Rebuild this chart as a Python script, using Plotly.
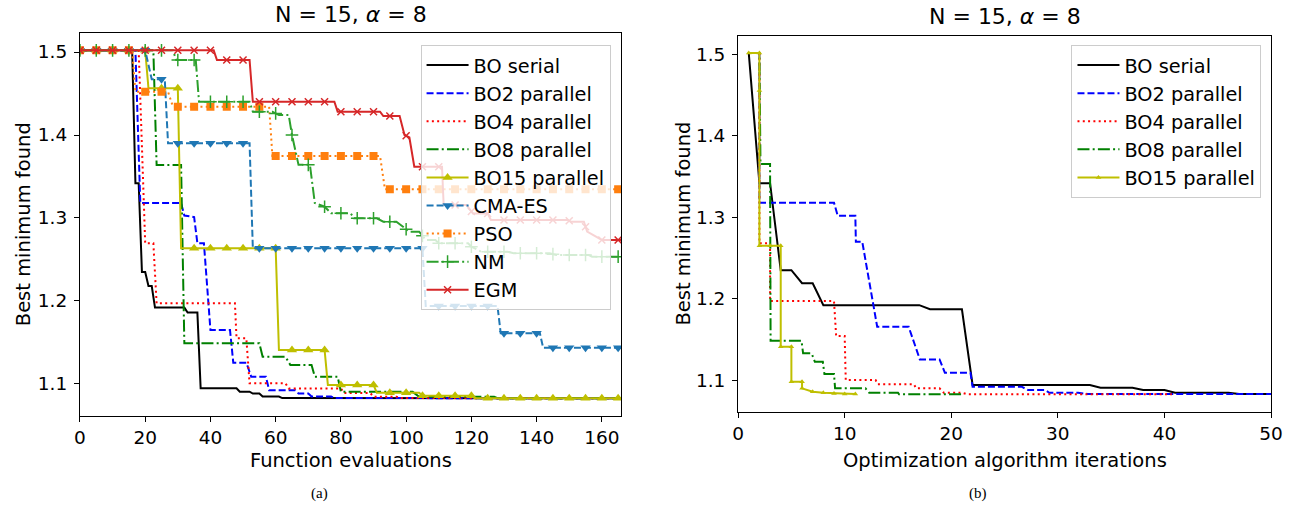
import numpy as np
import plotly.graph_objects as go

# ---------------- data: left panel (function evaluations) ----------------
bo_serial_x = [0, 16, 17, 18, 19, 20, 21, 22, 23, 32, 33, 36, 37, 48, 49, 52, 53, 55, 56, 61, 62, 166]
bo_serial_y = [1.502, 1.502, 1.342, 1.342, 1.235, 1.235, 1.218, 1.218, 1.192, 1.192, 1.186, 1.186,
               1.0948, 1.0948, 1.0907, 1.0907, 1.0885, 1.0885, 1.0848, 1.0848, 1.083, 1.0828]

bo2_x = [0, 17, 18.5, 31, 32, 35, 36, 38, 40, 46, 47, 51, 52.5, 57, 58, 66, 67, 70, 71, 77, 78, 166]
bo2_y = [1.502, 1.502, 1.318, 1.318, 1.303, 1.301, 1.2695, 1.2695, 1.165, 1.165, 1.1257, 1.1257,
         1.1088, 1.1088, 1.0925, 1.0925, 1.0885, 1.0885, 1.0848, 1.0848, 1.083, 1.0828]

bo4_x = [0, 18, 20, 22.5, 23.5, 47.5, 48, 51, 52, 63, 64, 80, 81, 89, 90, 97, 98, 166]
bo4_y = [1.502, 1.502, 1.2695, 1.2695, 1.1972, 1.1972, 1.1551, 1.1551, 1.1008, 1.1008, 1.0945, 1.0945,
         1.089, 1.089, 1.0847, 1.0847, 1.083, 1.0828]

bo8_x = [0, 22.5, 23.5, 31, 32, 55, 56, 63, 64.5, 71, 72, 79, 80, 102, 104, 127, 128, 166]
bo8_y = [1.502, 1.502, 1.3639, 1.3639, 1.149, 1.149, 1.1329, 1.1329, 1.1229, 1.1229, 1.1088, 1.1088,
         1.0905, 1.0905, 1.0845, 1.0845, 1.0828, 1.0828]

bo15_x = [0, 20, 21, 30, 31, 60, 61, 75, 76, 90, 91, 104, 105, 120, 121, 166]
bo15_y = [1.502, 1.502, 1.4563, 1.4563, 1.2635, 1.2635, 1.141, 1.141, 1.0988, 1.0988, 1.0895, 1.0895,
          1.0859, 1.0859, 1.0828, 1.0828]

cma_x = [0, 20, 22, 26, 27, 52, 53, 105, 106, 128, 129, 141, 142, 166]
cma_y = [1.502, 1.502, 1.4671, 1.4671, 1.39, 1.39, 1.2635, 1.2635, 1.194, 1.194, 1.1611, 1.1611, 1.1437, 1.1437]

pso_x = [0, 16, 17, 27, 28.5, 58, 59, 92, 93.5, 166]
pso_y = [1.502, 1.502, 1.4522, 1.4522, 1.4341, 1.4341, 1.3747, 1.3747, 1.3346, 1.3346]

nm_x = [0, 28.5, 29.5, 35.5, 36.5, 52, 53, 59, 61, 64, 65, 67, 70.5, 72, 75, 77, 83, 84, 91, 93, 97,
        101, 104, 106, 109, 110, 119, 120, 123, 131, 133, 144, 146, 156, 157, 166]
nm_y = [1.502, 1.502, 1.4904, 1.4904, 1.4401, 1.4401, 1.428, 1.428, 1.424, 1.424, 1.40, 1.364, 1.364,
        1.318, 1.3136, 1.3057, 1.3057, 1.2996, 1.2996, 1.2955, 1.2955, 1.2835, 1.2835, 1.2735, 1.2735,
        1.2695, 1.2695, 1.2654, 1.2594, 1.2594, 1.2575, 1.2575, 1.2554, 1.2554, 1.2534, 1.2534]

egm_x = [0, 41, 42, 52, 53, 78, 79, 92, 93, 98, 99.5, 101, 102.5, 111, 111.5, 118.5, 120.5, 125, 126,
         149.5, 150.5, 154.5, 155.5, 158.5, 160, 166]
egm_y = [1.502, 1.502, 1.4904, 1.4904, 1.4401, 1.4401, 1.4281, 1.4281, 1.4229, 1.4229, 1.40, 1.397,
         1.3618, 1.3618, 1.3157, 1.3157, 1.3053, 1.3053, 1.2976, 1.2976, 1.2956, 1.2956, 1.2835, 1.2775,
         1.2735, 1.2735]

# ---------------- data: right panel (iterations) ----------------
it_serial_x = [1, 2, 3, 4, 5, 6, 7, 8, 17, 18, 21, 22, 33, 34, 37, 38, 40, 41, 46, 47, 50]
it_serial_y = [1.502, 1.342, 1.342, 1.235, 1.235, 1.219, 1.219, 1.192, 1.192, 1.187, 1.187, 1.094,
               1.094, 1.0905, 1.0905, 1.0877, 1.0877, 1.0844, 1.0844, 1.0828, 1.0828]

it_bo2_x = [1, 2, 2, 9, 9.35, 11, 11.05, 11.65, 13.05, 16, 17.05, 18.9, 19.4, 21.8, 22, 26.6, 27.2,
            28.8, 29.2, 31.9, 32.8, 50]
it_bo2_y = [1.502, 1.502, 1.318, 1.318, 1.3018, 1.3018, 1.2699, 1.2699, 1.1655, 1.1655, 1.1254, 1.1254,
            1.109, 1.109, 1.0918, 1.0918, 1.0877, 1.0877, 1.0844, 1.0844, 1.0828, 1.0828]

it_bo4_x = [1, 2, 2, 3, 3, 9, 9.2, 10, 10.1, 12.9, 13.1, 16.5, 16.7, 18.9, 19.3, 21, 21.5, 40.7]
it_bo4_y = [1.502, 1.502, 1.268, 1.268, 1.197, 1.197, 1.154, 1.154, 1.100, 1.100, 1.0947, 1.0947,
            1.0898, 1.0898, 1.0844, 1.0844, 1.0825, 1.0825]

it_bo8_x = [1, 2, 2.1, 3.0, 3.05, 5.95, 6.1, 6.9, 7.2, 7.95, 8.1, 9.0, 9.1, 11.95, 12.3, 15.0, 15.1, 21.0]
it_bo8_y = [1.502, 1.502, 1.3654, 1.3654, 1.1483, 1.1483, 1.1328, 1.1328, 1.1225, 1.1225, 1.1074, 1.1074,
            1.0898, 1.0898, 1.0844, 1.0844, 1.0824, 1.0824]

it_bo15_x = [1, 2, 2, 2, 3, 4, 4, 5, 5, 6, 6, 7, 8, 9, 10, 11]
it_bo15_y = [1.502, 1.502, 1.456, 1.265, 1.265, 1.265, 1.141, 1.141, 1.098, 1.098, 1.0898, 1.0856,
             1.0844, 1.0836, 1.083, 1.0828]

left_ticks_x = [0, 20, 40, 60, 80, 100, 120, 140, 160]
right_ticks_x = [0, 10, 20, 30, 40, 50]
ticks_y = [1.1, 1.2, 1.3, 1.4, 1.5]
marker_step = 5

# ---------------- styles ----------------
W, H = 1308, 513
FONT = "DejaVu Sans"
LW = 2
DASH = "7px,3px"
DOT = "2px,3.3px"
DASHDOT = "12px,3.2px,2px,3.2px"

left_series = [
    ("BO serial", bo_serial_x, bo_serial_y, "#000000", "solid", None),
    ("BO2 parallel", bo2_x, bo2_y, "#0000ff", DASH, None),
    ("BO4 parallel", bo4_x, bo4_y, "#ff0000", DOT, None),
    ("BO8 parallel", bo8_x, bo8_y, "#008000", DASHDOT, None),
    ("BO15 parallel", bo15_x, bo15_y, "#bfbf00", "solid", ("triangle-up", 9)),
    ("CMA-ES", cma_x, cma_y, "#1f77b4", DASH, ("triangle-down", 9)),
    ("PSO", pso_x, pso_y, "#ff7f0e", DOT, ("square", 8)),
    ("NM", nm_x, nm_y, "#2ca02c", DASHDOT, ("cross-thin", 9)),
    ("EGM", egm_x, egm_y, "#d62728", "solid", ("x-thin", 7)),
]

right_series = [
    ("BO serial", it_serial_x, it_serial_y, "#000000", "solid", None),
    ("BO2 parallel", it_bo2_x, it_bo2_y, "#0000ff", DASH, None),
    ("BO4 parallel", it_bo4_x, it_bo4_y, "#ff0000", DOT, None),
    ("BO8 parallel", it_bo8_x, it_bo8_y, "#008000", DASHDOT, None),
    ("BO15 parallel", it_bo15_x, it_bo15_y, "#bfbf00", "solid", ("triangle-up", 5)),
]


def marker_dict(sym, size, color):
    d = dict(symbol=sym, size=size, color=color)
    if sym.endswith("-thin"):
        d["line"] = dict(color=color, width=1.5)
    else:
        d["line"] = dict(width=0)
    return d


fig = go.Figure()
legend_traces = []

# left panel
for name, xs, ys, color, dash, mk in left_series:
    fig.add_trace(go.Scatter(x=xs, y=ys, mode="lines", line=dict(color=color, width=LW, dash=dash),
                             xaxis="x", yaxis="y", showlegend=False, hoverinfo="skip"))
    if mk is not None:
        xm = np.arange(0, max(xs) + 1e-9, marker_step)
        ym = np.interp(xm, xs, ys)
        fig.add_trace(go.Scatter(x=xm, y=ym, mode="markers", marker=marker_dict(mk[0], mk[1], color),
                                 xaxis="x", yaxis="y", showlegend=False, hoverinfo="skip"))
    legend_traces.append(go.Scatter(
        x=[None], y=[None], name=name, legend="legend", xaxis="x", yaxis="y",
        mode="lines+markers" if mk else "lines",
        line=dict(color=color, width=LW, dash=dash),
        marker=marker_dict(mk[0], mk[1], color) if mk else None))

# right panel
for name, xs, ys, color, dash, mk in right_series:
    if mk is not None:
        fig.add_trace(go.Scatter(x=xs, y=ys, mode="lines+markers",
                                 line=dict(color=color, width=LW, dash=dash),
                                 marker=marker_dict(mk[0], mk[1], color),
                                 xaxis="x2", yaxis="y2", showlegend=False, hoverinfo="skip"))
    else:
        fig.add_trace(go.Scatter(x=xs, y=ys, mode="lines", line=dict(color=color, width=LW, dash=dash),
                                 xaxis="x2", yaxis="y2", showlegend=False, hoverinfo="skip"))
    legend_traces.append(go.Scatter(
        x=[None], y=[None], name=name, legend="legend2", xaxis="x2", yaxis="y2",
        mode="lines+markers" if mk else "lines",
        line=dict(color=color, width=LW, dash=dash),
        marker=marker_dict(mk[0], mk[1], color) if mk else None))

for t in legend_traces:
    fig.add_trace(t)

axis_common = dict(showline=True, mirror=True, linecolor="black", linewidth=1, ticks="outside",
                   ticklen=5, tickwidth=1, tickcolor="black", showgrid=False, zeroline=False,
                   tickfont=dict(family=FONT, size=18.5, color="black"))

fig.update_layout(
    width=W, height=H, margin=dict(l=0, r=0, t=0, b=0),
    paper_bgcolor="white", plot_bgcolor="white", hovermode=False,
    xaxis=dict(domain=[75 / W, 624 / W], range=[0, 166], anchor="y", tickvals=left_ticks_x, **axis_common),
    yaxis=dict(domain=[1 - 416 / H, 1 - 33 / H], range=[1.0614, 1.5229], anchor="x", tickvals=ticks_y,
               tickformat=".1f", ticklabelstandoff=3, **axis_common),
    xaxis2=dict(domain=[742.3 / W, 1282.7 / W], range=[0, 50], anchor="y2", tickvals=right_ticks_x, **axis_common),
    yaxis2=dict(domain=[1 - 411.7 / H, 1 - 35.7 / H], range=[1.0611, 1.5232], anchor="x2", tickvals=ticks_y,
                tickformat=".1f", ticklabelstandoff=3, **axis_common),
    legend=dict(x=613 / W, xanchor="right", y=1 - 45 / H, yanchor="top",
                bgcolor="rgba(255,255,255,0.8)", bordercolor="#cccccc", borderwidth=1,
                font=dict(family=FONT, size=19.3, color="black"), itemwidth=42, traceorder="normal"),
    legend2=dict(x=1273 / W, xanchor="right", y=1 - 45 / H, yanchor="top",
                 bgcolor="rgba(255,255,255,0.8)", bordercolor="#cccccc", borderwidth=1,
                 font=dict(family=FONT, size=19.3, color="black"), itemwidth=42, traceorder="normal"),
)


def ann(text, xpx, ypx, size=19.5, angle=0, family=FONT):
    fig.add_annotation(text=text, x=xpx / W, y=1 - ypx / H, xref="paper", yref="paper",
                       xanchor="center", yanchor="middle", showarrow=False, textangle=angle,
                       font=dict(family=family, size=size, color="black"))


ann("N = 15, <i>α</i> = 8", 349.5, 15, size=22)
ann("N = 15, <i>α</i> = 8", 1012.5, 16, size=22)
ann("Function evaluations", 349.5, 460)
ann("Optimization algorithm iterations", 1012.5, 460)
ann("Best minimum found", 18, 224.5, angle=-90)
ann("Best minimum found", 686, 224, angle=-90)
ann("(a)", 318, 493, size=15, family="Liberation Serif")
ann("(b)", 986, 493, size=15, family="Liberation Serif")

fig.write_html("out.html")
